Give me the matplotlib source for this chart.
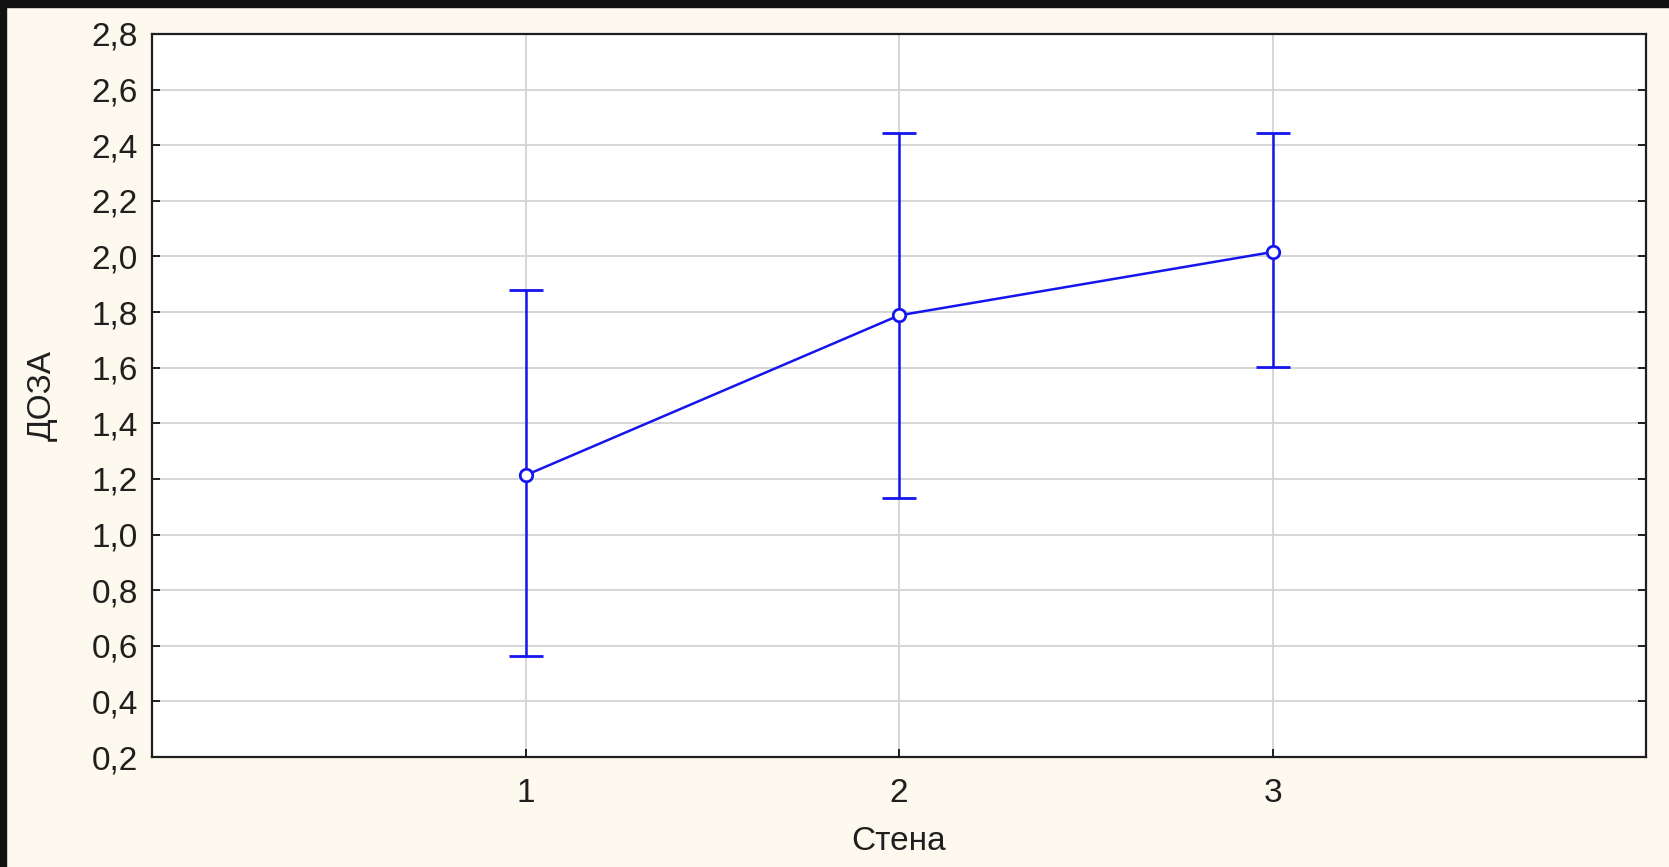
import matplotlib
matplotlib.use("Agg")
import matplotlib.pyplot as plt
from matplotlib.patches import Rectangle
from matplotlib.ticker import FuncFormatter, MultipleLocator
import numpy as np

# Mean dose per wall with confidence interval bounds
walls = [1, 2, 3]
dose_mean = [1.213, 1.788, 2.016]
dose_low = [0.564, 1.131, 1.603]
dose_high = [1.880, 2.444, 2.444]

x_label = "Стена"
y_label = "ДОЗА"

W, H = 1669, 867
plt.rcParams["font.family"] = ["Liberation Sans", "DejaVu Sans"]

fig = plt.figure(figsize=(W / 100, H / 100), dpi=100)
fig.patch.set_facecolor("#FDF9EE")

ax = fig.add_axes([152 / W, 1 - 757 / H, (1646 - 152) / W, (757 - 34) / H])
ax.set_facecolor("white")

mean = np.array(dose_mean)
yerr = np.vstack([mean - np.array(dose_low), np.array(dose_high) - mean])

ax.errorbar(walls, dose_mean, yerr=yerr, color="#1515F0", lw=1.8,
            elinewidth=1.8, capsize=12, capthick=1.8,
            marker="o", markersize=9, markerfacecolor="white",
            markeredgecolor="#1515F0", markeredgewidth=2.0, zorder=3)

ax.set_xlim(0, 4)
ax.set_ylim(0.2, 2.8)
ax.set_xticks(walls)
ax.yaxis.set_major_locator(MultipleLocator(0.2))
ax.yaxis.set_major_formatter(FuncFormatter(lambda v, p: f"{v:.1f}".replace(".", ",")))

ax.grid(True, color="#D6D6D6", lw=1.4, zorder=0)
ax.set_axisbelow(True)

for s in ax.spines.values():
    s.set_color("#1E1E1E")
    s.set_linewidth(1.6)

ax.tick_params(axis="both", direction="in", length=6, width=1.4,
               color="#1E1E1E", labelsize=24, labelcolor="#1F1F1F")
ax.tick_params(axis="y", right=True, pad=10)
ax.tick_params(axis="x", pad=15)

ax.set_xlabel(x_label, fontsize=24, color="#1F1F1F", va="center")
ax.set_ylabel(y_label, fontsize=24, color="#1F1F1F", va="center")
ax.xaxis.set_label_coords(0.5, -(841 - 757) / 723)
ax.yaxis.set_label_coords(-(152 - 42) / 1494, 0.5)

# dark frame strips along top and left edges
fig.add_artist(Rectangle((0, 1 - 7 / H), 1, 7 / H, transform=fig.transFigure,
                         color="#111111", zorder=10))
fig.add_artist(Rectangle((0, 0), 6 / W, 1, transform=fig.transFigure,
                         color="#111111", zorder=10))

fig.savefig("out.png", dpi=100, facecolor=fig.get_facecolor())
